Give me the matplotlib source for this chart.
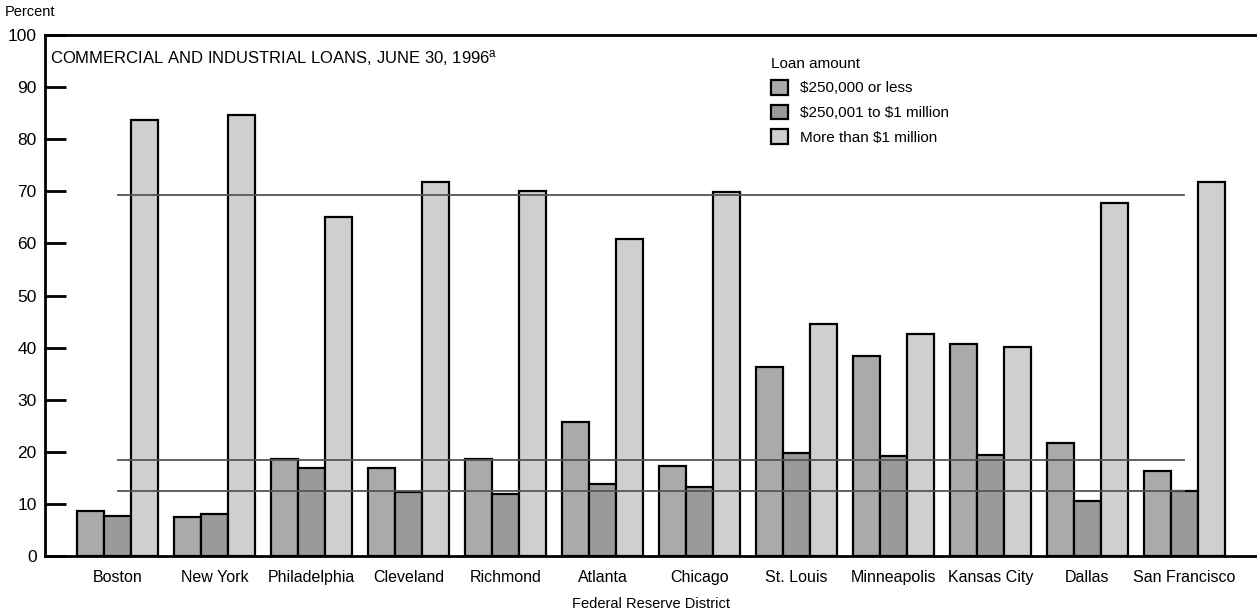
import matplotlib
matplotlib.use("Agg")
import matplotlib.pyplot as plt
from matplotlib.patches import Patch
import numpy as np

districts = ["Boston", "New York", "Philadelphia", "Cleveland", "Richmond", "Atlanta",
             "Chicago", "St. Louis", "Minneapolis", "Kansas City", "Dallas", "San Francisco"]
small = [8.7, 7.4, 18.6, 16.8, 18.6, 25.8, 17.2, 36.2, 38.3, 40.6, 21.7, 16.3]
medium = [7.7, 8.0, 16.8, 12.2, 11.9, 13.8, 13.3, 19.8, 19.2, 19.4, 10.6, 12.4]
large = [83.7, 84.6, 65.0, 71.7, 70.0, 60.9, 69.9, 44.6, 42.6, 40.1, 67.8, 71.8]
series_labels = ["\\$250,000 or less", "\\$250,001 to \\$1 million", "More than \\$1 million"]
averages = [69.3, 18.5, 12.4]
yticks = list(range(0, 101, 10))

plt.rcParams["font.family"] = ["Liberation Sans", "DejaVu Sans"]
plt.rcParams["mathtext.fontset"] = "custom"
plt.rcParams["mathtext.rm"] = "Liberation Sans"
plt.rcParams["mathtext.it"] = "Liberation Sans"

fig = plt.figure(figsize=(12.57, 6.12), dpi=100)
ax = fig.add_axes([45/1257, 1-556/612, 1-45/1257, (556-35)/612])

x = np.arange(len(districts))
w = 0.28
colors = ["#aaaaaa", "#9a9a9a", "#cfcfcf"]
for i, (vals, c) in enumerate(zip([small, medium, large], colors)):
    ax.bar(x + (i - 1) * w, vals, width=w, color=c, edgecolor="black", linewidth=1.6, zorder=2)

for a in averages:
    ax.plot([x[0], x[-1]], [a, a], color="#555555", linewidth=1.3, zorder=3)

ax.set_xlim(-0.75, 11.75)
ax.set_ylim(0, 100)
ax.set_yticks(yticks)
ax.set_yticklabels([str(t) for t in yticks], fontsize=12.5)
ax.tick_params(axis="y", direction="in", length=15, width=2, pad=6)
ax.set_xticks(x)
ax.set_xticklabels(districts, fontsize=11.5)
ax.tick_params(axis="x", length=0, pad=10)
ax.spines["right"].set_visible(False)
ax.spines["left"].set_linewidth(2)
ax.spines["bottom"].set_linewidth(2)
ax.spines["top"].set_linewidth(2)

ax.text(0.004, 0.975, "COMMERCIAL AND INDUSTRIAL LOANS, JUNE 30, 1996$^{\\mathrm{a}}$",
        transform=ax.transAxes, ha="left", va="top", fontsize=12)
fig.text(5/1257, 1-12/612, "Percent", ha="left", va="center", fontsize=10.5)
ax.set_xlabel("Federal Reserve District", fontsize=10.5, labelpad=9)

handles = [Patch(facecolor=c, edgecolor="black", linewidth=1.6) for c in colors]
leg = ax.legend(handles, series_labels, title="Loan amount", loc="upper left",
                bbox_to_anchor=(0.594, 0.97), frameon=False,
                prop={"size": 11}, handlelength=1.1, handleheight=1.1,
                handletextpad=0.8, labelspacing=0.6, borderaxespad=0)
leg.get_title().set_fontsize(11)
leg._legend_box.align = "left"

fig.savefig("out.png", dpi=100)
